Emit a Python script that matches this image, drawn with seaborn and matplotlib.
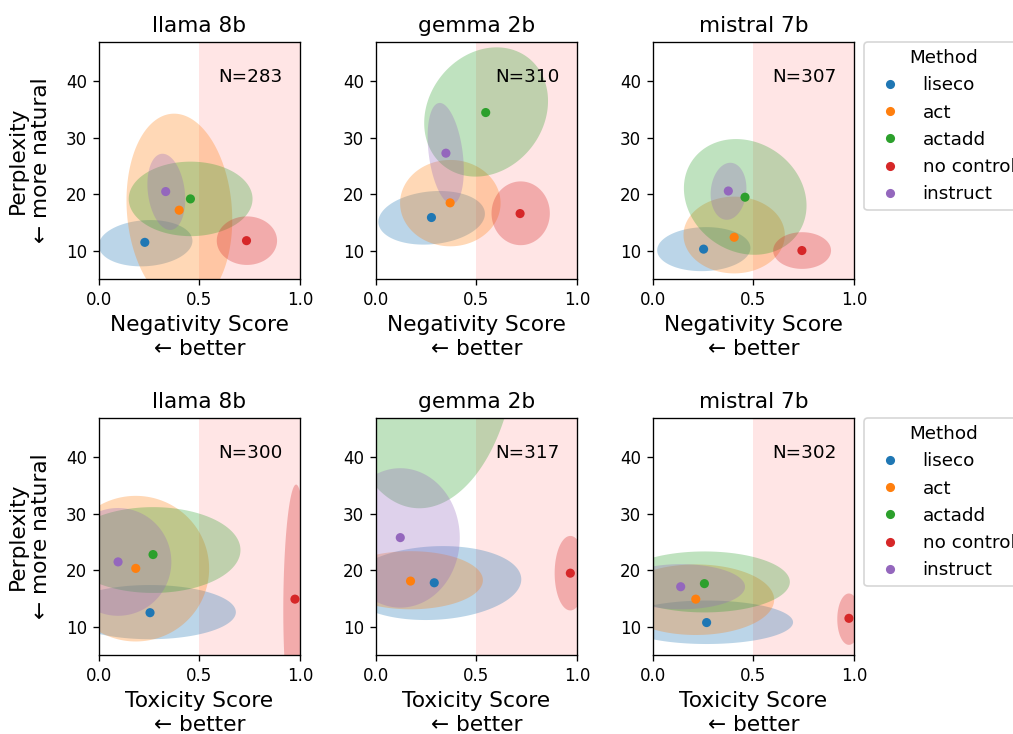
import numpy as np
import pandas as pd
import matplotlib
matplotlib.use("Agg")
import matplotlib.pyplot as plt
import seaborn as sns

# ---------------- data ----------------
methods = ["liseco", "act", "actadd", "no control", "instruct"]
models = ["llama 8b", "gemma 2b", "mistral 7b"]

# Row 1: Negativity score vs perplexity  (one inner list per model: llama, gemma, mistral)
neg_n = [283, 310, 307]
neg_x = [[0.228, 0.399, 0.455, 0.734, 0.332],
         [0.276, 0.369, 0.546, 0.717, 0.348],
         [0.252, 0.404, 0.458, 0.741, 0.375]]
neg_y = [[11.5, 17.2, 19.2, 11.8, 20.5],
         [15.9, 18.5, 34.5, 16.6, 27.3],
         [10.3, 12.4, 19.5, 10.05, 20.6]]
# spread ellipses: centre, half-extent in x / y, correlation
neg_ex = [[0.232, 0.400, 0.456, 0.736, 0.335],
          [0.277, 0.370, 0.548, 0.720, 0.347],
          [0.253, 0.404, 0.459, 0.742, 0.376]]
neg_ey = [[11.35, 17.2, 19.2, 11.8, 20.45],
          [15.85, 18.45, 34.6, 16.65, 27.25],
          [10.3, 12.8, 19.55, 10.05, 20.55]]
neg_sx = [[0.233, 0.263, 0.308, 0.150, 0.094],
          [0.265, 0.250, 0.308, 0.145, 0.090],
          [0.232, 0.252, 0.305, 0.144, 0.089]]
neg_sy = [[4.1, 17.1, 6.6, 4.3, 6.75],
          [4.75, 7.65, 11.45, 5.65, 8.95],
          [3.9, 6.8, 10.25, 3.25, 5.05]]
neg_rho = [[0.1, -0.1, 0.0, 0.0, -0.2],
           [0.15, 0.0, 0.17, 0.0, -0.33],
           [0.05, 0.0, -0.15, 0.0, 0.1]]

# Row 2: Toxicity score vs perplexity
tox_n = [300, 317, 302]
tox_x = [[0.254, 0.183, 0.269, 0.975, 0.095],
         [0.290, 0.172, 0.260, 0.967, 0.121],
         [0.267, 0.213, 0.256, 0.975, 0.138]]
tox_y = [[12.5, 20.35, 22.8, 14.9, 21.5],
         [17.8, 18.1, 58.5, 19.5, 25.8],
         [10.75, 14.9, 17.65, 11.5, 17.1]]
tox_ex = [[0.254, 0.183, 0.269, 0.975, 0.095],
          [0.290, 0.172, 0.260, 0.967, 0.121],
          [0.267, 0.213, 0.256, 0.975, 0.138]]
tox_ey = [[12.6, 20.3, 23.6, 14.9, 21.5],
          [17.75, 18.25, 58.5, 19.5, 25.75],
          [10.8, 14.8, 17.95, 11.35, 17.1]]
tox_sx = [[0.427, 0.365, 0.435, 0.058, 0.265],
          [0.433, 0.360, 0.440, 0.078, 0.296],
          [0.430, 0.390, 0.425, 0.058, 0.320]]
tox_sy = [[4.8, 12.9, 7.6, 20.3, 9.55],
          [6.55, 5.15, 27.5, 6.6, 12.35],
          [3.85, 6.25, 5.4, 4.55, 4.0]]
tox_rho = [[0.0, 0.0, 0.0, 0.1, 0.0],
           [0.1, 0.0, 0.1, 0.0, 0.0],
           [0.0, 0.0, 0.0, 0.0, 0.0]]

rows = [
    ("Negativity Score\n\u2190 better", neg_n, neg_x, neg_y, neg_ex, neg_ey, neg_sx, neg_sy, neg_rho),
    ("Toxicity Score\n\u2190 better", tox_n, tox_x, tox_y, tox_ex, tox_ey, tox_sx, tox_sy, tox_rho),
]

palette = sns.color_palette("tab10", len(methods))

# ---------------- figure ----------------
DPI = 120
fig, axes = plt.subplots(2, 3, figsize=(1013 / DPI, 734 / DPI), dpi=DPI)
fig.subplots_adjust(left=0.0977, right=0.843, bottom=0.1076, top=0.9428,
                    wspace=0.378, hspace=0.586)

t = np.linspace(0, 2 * np.pi, 240)

for r, (xlabel, ns, px, py, ex, ey, sx, sy, rho) in enumerate(rows):
    for c, model in enumerate(models):
        ax = axes[r, c]
        ax.axvspan(0.5, 1.0, color="red", alpha=0.1, lw=0, zorder=0)
        for k, m in enumerate(methods):
            rr = rho[c][k]
            ellx = ex[c][k] + sx[c][k] * np.cos(t)
            elly = ey[c][k] + sy[c][k] * (rr * np.cos(t) + np.sqrt(1 - rr ** 2) * np.sin(t))
            ax.fill(ellx, elly, color=palette[k], alpha=0.3, lw=0, zorder=1)
        df = pd.DataFrame({"score": px[c], "ppl": py[c], "Method": methods})
        sns.scatterplot(data=df, x="score", y="ppl", hue="Method", hue_order=methods,
                        palette=palette, s=30, linewidth=0, ax=ax,
                        legend=(c == 2), zorder=3)
        ax.set_xlim(0, 1)
        ax.set_ylim(5, 47)
        ax.set_xticks([0.0, 0.5, 1.0])
        ax.set_yticks([10, 20, 30, 40])
        ax.tick_params(labelsize=10)
        ax.set_title(model, fontsize=13)
        ax.set_xlabel(xlabel, fontsize=13)
        if c == 0:
            ax.set_ylabel("Perplexity\n\u2190 more natural", fontsize=13, labelpad=9)
        else:
            ax.set_ylabel("")
        ax.text(0.915, 0.89, f"N={ns[c]}", transform=ax.transAxes,
                ha="right", va="top", fontsize=11)
        if c == 2:
            sns.move_legend(ax, "upper left", bbox_to_anchor=(1.05, 1.0),
                            borderaxespad=0, title="Method", fontsize=11,
                            title_fontsize=11)

fig.savefig("out.png", dpi=DPI)
